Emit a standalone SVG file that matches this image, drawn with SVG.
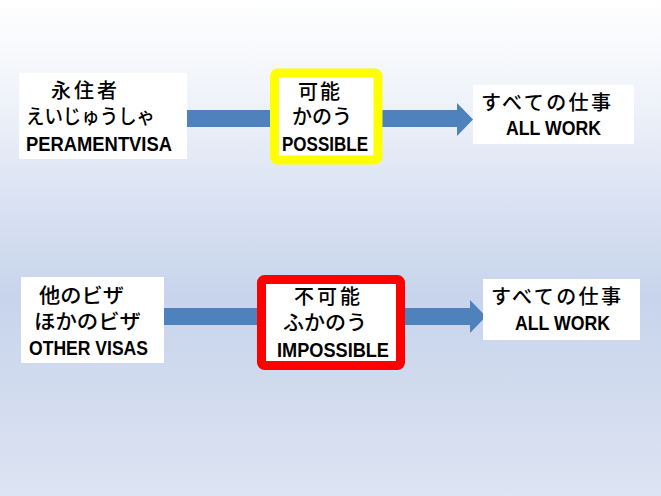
<svg xmlns="http://www.w3.org/2000/svg" width="661" height="496" viewBox="0 0 661 496">
<defs>
<linearGradient id="bg" x1="0" y1="0" x2="0" y2="1">
<stop offset="0" stop-color="#ffffff"/>
<stop offset="0.18" stop-color="#f1f4fa"/>
<stop offset="0.6" stop-color="#c7d4ec"/>
<stop offset="1" stop-color="#dde4f2"/>
</linearGradient>
<style>
.box{fill:#ffffff}
.jp{font-family:"Noto Sans CJK JP","Noto Sans CJK SC",sans-serif;font-weight:500;font-size:20px;fill:#000}
.en{font-family:"Liberation Sans",Arial,sans-serif;font-weight:bold;font-size:19.5px;fill:#000}
.arrow{fill:#4f81bd}
</style>
</defs>
<rect x="0" y="0" width="661" height="496" fill="url(#bg)"/>
<g id="connectors">
<path class="arrow" d="M187,110 H457 V103 L473,119.5 L457,136 V127 H187 Z"/>
<path class="arrow" d="M164,308 H470 V300 L486,316.5 L470,333 V325 H164 Z"/>
</g>
<g id="node-permanent">
<rect class="box" x="19" y="73" width="168" height="86"/>
<text class="jp" x="51" y="98" textLength="66">永住者</text>
<text class="jp" x="26" y="124" textLength="129" lengthAdjust="spacingAndGlyphs">えいじゅうしゃ</text>
<text class="en" x="26" y="151" textLength="146" lengthAdjust="spacingAndGlyphs">PERAMENTVISA</text>
</g>
<g id="node-possible">
<rect x="274.5" y="73" width="103.5" height="87" rx="3" fill="#ffffff" stroke="#ffff00" stroke-width="9"/>
<text class="jp" x="298" y="99" textLength="42">可能</text>
<text class="jp" x="292" y="124" textLength="60">かのう</text>
<text class="en" x="282" y="151" textLength="86" lengthAdjust="spacingAndGlyphs">POSSIBLE</text>
</g>
<g id="node-allwork-1">
<rect class="box" x="473" y="85" width="161" height="59"/>
<text class="jp" x="481" y="110" textLength="130">すべての仕事</text>
<text class="en" x="506" y="135" textLength="95" lengthAdjust="spacingAndGlyphs">ALL WORK</text>
</g>
<g id="node-other">
<rect class="box" x="21" y="277" width="143" height="86"/>
<text class="jp" x="39" y="303" textLength="85" lengthAdjust="spacingAndGlyphs">他のビザ</text>
<text class="jp" x="34" y="329" textLength="107" lengthAdjust="spacingAndGlyphs">ほかのビザ</text>
<text class="en" x="29" y="355" textLength="119" lengthAdjust="spacingAndGlyphs">OTHER VISAS</text>
</g>
<g id="node-impossible">
<rect x="261.5" y="279.5" width="139" height="86" rx="3" fill="#ffffff" stroke="#ff0000" stroke-width="9"/>
<text class="jp" x="294" y="304" textLength="66">不可能</text>
<text class="jp" x="283" y="330" textLength="84" lengthAdjust="spacingAndGlyphs">ふかのう</text>
<text class="en" x="277" y="357" textLength="112" lengthAdjust="spacingAndGlyphs">IMPOSSIBLE</text>
</g>
<g id="node-allwork-2">
<rect class="box" x="483" y="279" width="157" height="61"/>
<text class="jp" x="491" y="304" textLength="130">すべての仕事</text>
<text class="en" x="515" y="330" textLength="95" lengthAdjust="spacingAndGlyphs">ALL WORK</text>
</g>
</svg>
